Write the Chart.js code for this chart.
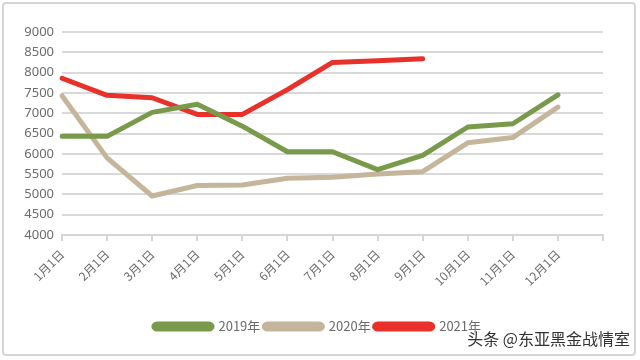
<!DOCTYPE html>
<html>
<head>
<meta charset="utf-8">
<script src="https://cdn.jsdelivr.net/npm/chart.js@4/dist/chart.umd.min.js"></script>
<style>
  html, body { margin: 0; padding: 0; background: #fff; }
  #wrap { position: relative; width: 640px; height: 360px; }
  #frame {
    position: absolute; left: 2px; top: 2px; width: 630px; height: 350px;
    border: 2px solid #d6d6d6; border-radius: 4px; pointer-events: none;
  }
  #mark {
    position: absolute; right: 10px; bottom: 10px;
    font-family: "Noto Sans CJK SC", sans-serif; font-size: 16px; color: #333;
    text-shadow: 0 0 2px #fff, 0 0 2px #fff;
  }
</style>
</head>
<body>
<div id="wrap">
  <canvas id="priceChart" width="640" height="360"></canvas>
  <div id="frame"></div>
  <div id="mark">头条 @东亚黑金战情室</div>
</div>
<script>
// month labels, last one empty so the axis ends one step after 12月1日
const months = ['1月1日', '2月1日', '3月1日', '4月1日', '5月1日', '6月1日',
  '7月1日', '8月1日', '9月1日', '10月1日', '11月1日', '12月1日', ''];

const values2019 = [6430, 6430, 7020, 7220, 6680, 6050, 6050, 5610, 5960, 6660, 6740, 7450];
const values2020 = [7430, 5900, 4960, 5220, 5230, 5400, 5420, 5500, 5560, 6270, 6400, 7150];
const values2021 = [7860, 7440, 7380, 6970, 6970, 7580, 8250, 8290, 8340];

function lineSet(label, data, color) {
  return {
    label: label,
    data: data,
    borderColor: color,
    backgroundColor: color,
    borderWidth: 5,
    pointRadius: 0,
    tension: 0,
    borderCapStyle: 'round',
    borderJoinStyle: 'round'
  };
}

// nudge the legend to the right, it is centred on the whole picture in the original
const legendShift = {
  id: 'legendShift',
  afterLayout(chart) {
    chart.legend.left += 16;
    chart.legend.right += 16;
  }
};

const ctx = document.getElementById('priceChart').getContext('2d');
new Chart(ctx, {
  type: 'line',
  data: {
    labels: months,
    datasets: [
      lineSet('2019年', values2019, '#789a4a'),
      lineSet('2020年', values2020, '#c5b59b'),
      lineSet('2021年', values2021, '#e8312a')
    ]
  },
  plugins: [legendShift],
  options: {
    responsive: false,
    animation: false,
    layout: { padding: { left: 0, right: 37, top: 32, bottom: 17 } },
    scales: {
      x: {
        offset: false,
        grid: { display: true, drawOnChartArea: false, drawTicks: true, tickLength: 6, color: '#d6d6d6', lineWidth: 2 },
        border: { display: true, color: '#d6d6d6', width: 2 },
        ticks: {
          color: '#6b6b6b',
          font: { family: 'Noto Sans CJK SC', size: 12 },
          minRotation: 45, maxRotation: 45, autoSkip: false, padding: 6
        },
        afterFit: axis => { axis.height = 81; }
      },
      y: {
        min: 4000, max: 9000,
        ticks: {
          stepSize: 500, color: '#6b6b6b', font: { family: 'Noto Sans', size: 13 }, padding: 8,
          callback: v => String(v)
        },
        grid: { color: '#d9d9d9', lineWidth: 2, drawTicks: false },
        border: { display: false },
        afterFit: axis => { axis.width = 62; }
      }
    },
    plugins: {
      legend: {
        position: 'bottom',
        labels: {
          boxWidth: 58, boxHeight: 5, padding: 4,
          useBorderRadius: true, borderRadius: 3,
          color: '#6b6b6b',
          font: { family: 'Noto Sans CJK SC', size: 13 }
        }
      },
      tooltip: { enabled: false }
    }
  }
});
</script>
</body>
</html>
